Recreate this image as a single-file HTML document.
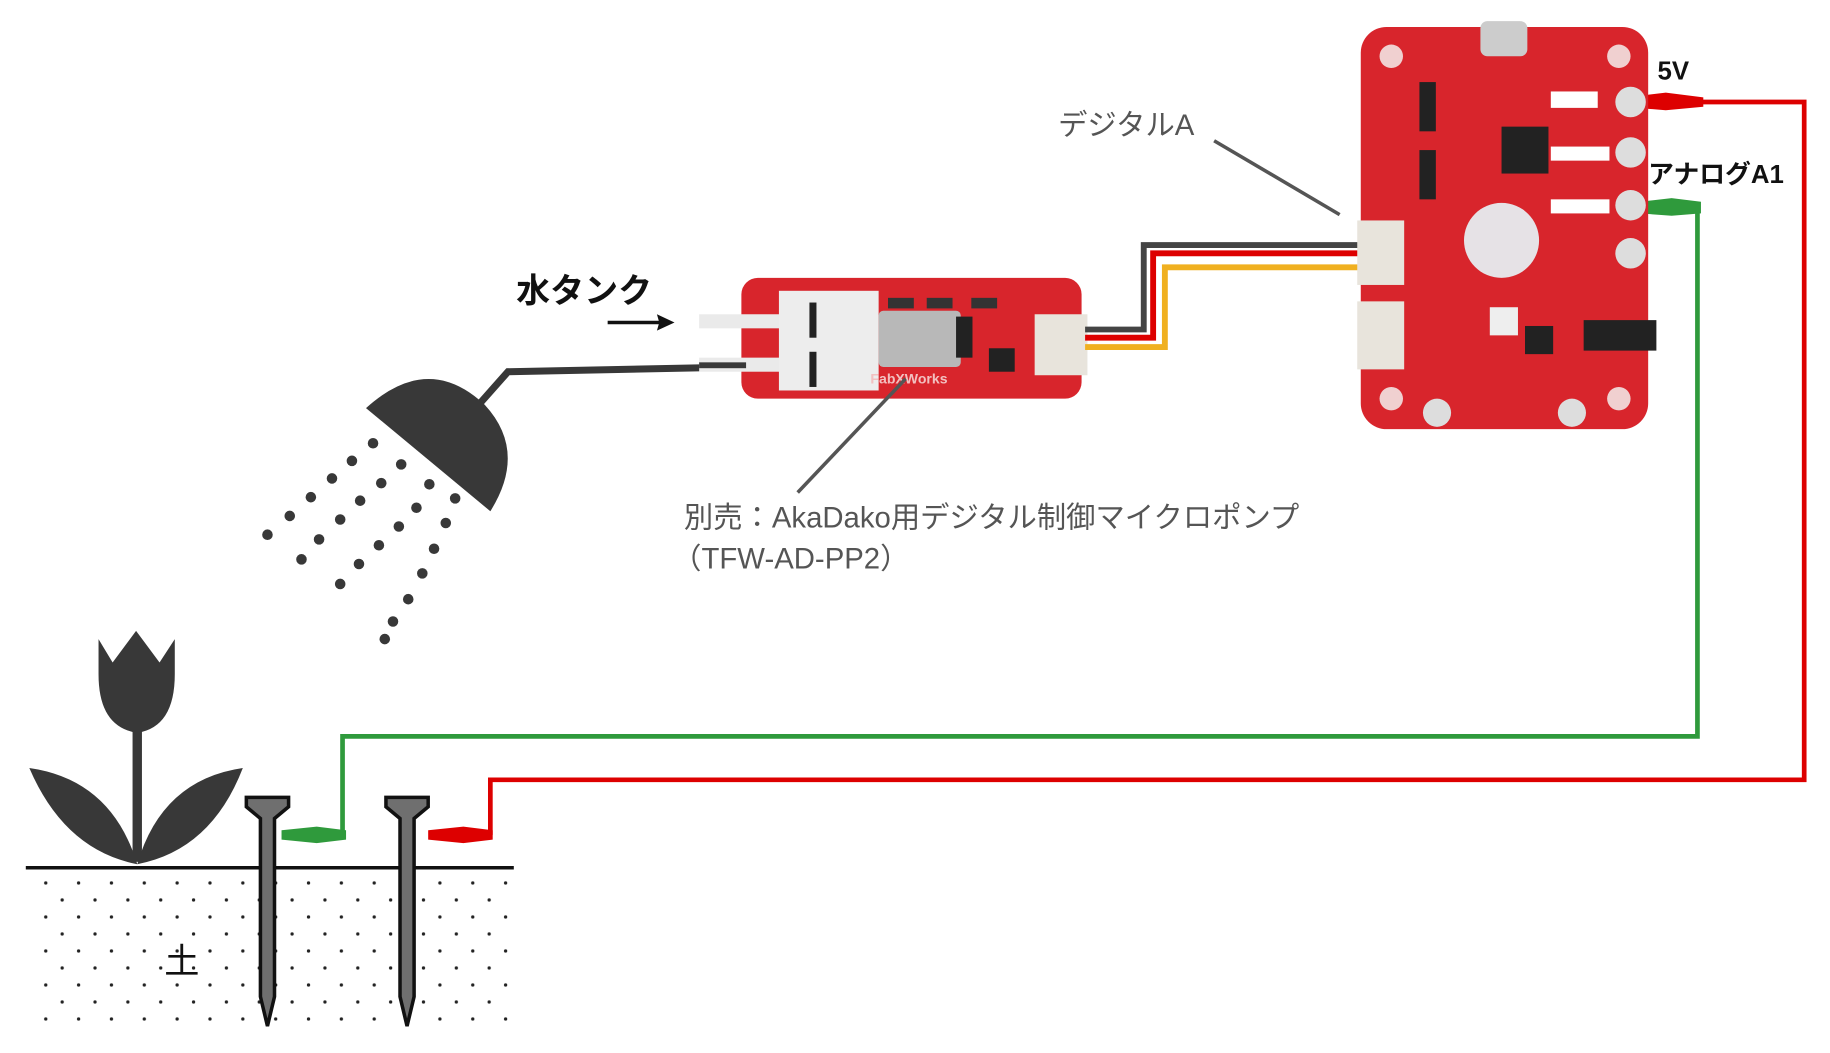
<!DOCTYPE html>
<html><head><meta charset="utf-8"><style>
html,body{margin:0;padding:0;background:#fff;}
svg{display:block;}
text{font-family:"Liberation Sans","Noto Sans CJK JP",sans-serif;}
</style></head><body>
<svg width="1830" height="1053" viewBox="0 0 1560 898" preserveAspectRatio="none" xmlns="http://www.w3.org/2000/svg">
<defs>
<pattern id="dots" x="36" y="750" width="28" height="29" patternUnits="userSpaceOnUse">
<circle cx="3" cy="3" r="1.4" fill="#222"/><circle cx="17" cy="17.5" r="1.4" fill="#222"/>
</pattern>
</defs>
<rect x="30" y="746" width="405" height="132" fill="url(#dots)"/>
<line x1="22" y1="740" x2="438" y2="740" stroke="#111" stroke-width="3"/>
<text x="140" y="830" font-size="30" fill="#111">土</text>
<rect x="113" y="605" width="8" height="130" fill="#383838"/>
<path d="M84 545 L96 565 L116 538 L136 565 L149 545 L149 575 Q149 620 117 625 Q84 620 84 575 Z" fill="#383838"/>
<path d="M25 655 Q95 665 117 737 Q55 725 25 655 Z" fill="#383838"/>
<path d="M207 655 Q138 665 117 737 Q180 725 207 655 Z" fill="#383838"/>
<g fill="#6f6f6f" stroke="#111" stroke-width="3">
<path d="M210 680 H246 V688 L234 698 V850 L228 875 L222 850 V698 L210 688 Z"/>
<path d="M329 680 H365 V688 L353 698 V850 L347 875 L341 850 V698 L329 688 Z"/>
</g>
<polyline points="292,712 292,628 1447,628 1447,178 1430,178" fill="none" stroke="#2f9a3c" stroke-width="4"/>
<polyline points="418,712 418,665 1538,665 1538,87 1440,87" fill="none" stroke="#dd0000" stroke-width="4"/>
<path d="M240 708 L270 705 L295 708 L295 716 L270 719 L240 716 Z" fill="#2f9a3c"/>
<path d="M1398 172 L1425 169 L1450 172 L1450 182 L1425 184 L1398 182 Z" fill="#2f9a3c"/>
<path d="M365 708 L395 705 L420 708 L420 716 L395 719 L365 716 Z" fill="#dd0000"/>
<path d="M1395 82 L1420 79 L1452 83 L1452 91 L1420 94 L1395 92 Z" fill="#dd0000"/>
<path d="M312 348 Q365 300 413 345 Q450 385 418 436 Z" fill="#383838"/>
<polyline points="410,343 433,317 632,313" fill="none" stroke="#383838" stroke-width="6"/>
<g fill="#383838">
<circle cx="318" cy="378" r="4.5"/><circle cx="300" cy="393" r="4.5"/><circle cx="283" cy="408" r="4.5"/><circle cx="265" cy="424" r="4.5"/><circle cx="247" cy="440" r="4.5"/><circle cx="228" cy="456" r="4.5"/>
<circle cx="342" cy="396" r="4.5"/><circle cx="325" cy="412" r="4.5"/><circle cx="307" cy="427" r="4.5"/><circle cx="290" cy="443" r="4.5"/><circle cx="272" cy="460" r="4.5"/><circle cx="257" cy="477" r="4.5"/>
<circle cx="366" cy="413" r="4.5"/><circle cx="355" cy="433" r="4.5"/><circle cx="340" cy="449" r="4.5"/><circle cx="323" cy="465" r="4.5"/><circle cx="306" cy="481" r="4.5"/><circle cx="290" cy="498" r="4.5"/>
<circle cx="388" cy="425" r="4.5"/><circle cx="380" cy="446" r="4.5"/><circle cx="370" cy="468" r="4.5"/><circle cx="360" cy="489" r="4.5"/><circle cx="348" cy="511" r="4.5"/><circle cx="335" cy="530" r="4.5"/><circle cx="328" cy="545" r="4.5"/>
</g>
<text x="440" y="258" font-size="29" font-weight="bold" fill="#111">水タンク</text>
<line x1="518" y1="275" x2="565" y2="275" stroke="#111" stroke-width="3"/>
<path d="M575 275 L560 268 L562 275 L560 282 Z" fill="#111"/>
<rect x="632" y="237" width="290" height="103" rx="14" fill="#d8252c"/>
<rect x="596" y="268" width="70" height="12" fill="#eaeaea"/>
<rect x="596" y="305" width="70" height="12" fill="#eaeaea"/>
<rect x="596" y="309" width="40" height="5" fill="#383838"/>
<rect x="664" y="248" width="85" height="85" fill="#ededed"/>
<rect x="690" y="258" width="6" height="30" fill="#222"/><rect x="690" y="300" width="6" height="30" fill="#222"/>
<rect x="749" y="265" width="70" height="48" rx="4" fill="#b8b8b8"/>
<rect x="815" y="270" width="14" height="35" fill="#222"/>
<rect x="757" y="254" width="22" height="9" fill="#333"/><rect x="790" y="254" width="22" height="9" fill="#333"/><rect x="828" y="254" width="22" height="9" fill="#333"/>
<rect x="843" y="297" width="22" height="20" fill="#222"/>
<text x="742" y="327" font-size="12" font-weight="bold" fill="#f2c0c0">FabXWorks</text>
<rect x="882" y="268" width="45" height="52" fill="#e8e4dc"/>
<polyline points="925,281 975,281 975,209 1165,209" fill="none" stroke="#444" stroke-width="5"/>
<polyline points="925,288 983,288 983,216 1165,216" fill="none" stroke="#dd0000" stroke-width="5"/>
<polyline points="925,296 993,296 993,228 1165,228" fill="none" stroke="#f0b020" stroke-width="5"/>
<rect x="1160" y="23" width="245" height="343" rx="22" fill="#d8252c"/>
<rect x="1262" y="18" width="40" height="30" rx="6" fill="#ccc"/>
<circle cx="1186" cy="48" r="10" fill="#f0d0d0"/><circle cx="1380" cy="48" r="10" fill="#f0d0d0"/>
<circle cx="1186" cy="340" r="10" fill="#f0d0d0"/><circle cx="1380" cy="340" r="10" fill="#f0d0d0"/>
<circle cx="1225" cy="352" r="12" fill="#ddd"/><circle cx="1340" cy="352" r="12" fill="#ddd"/>
<g fill="#ddd"><circle cx="1390" cy="87" r="13"/><circle cx="1390" cy="130" r="13"/><circle cx="1390" cy="175" r="13"/><circle cx="1390" cy="216" r="13"/></g>
<rect x="1280" y="108" width="40" height="40" fill="#222"/>
<circle cx="1280" cy="205" r="32" fill="#e6e2e6"/>
<rect x="1157" y="188" width="40" height="55" fill="#e8e4dc"/>
<rect x="1157" y="257" width="40" height="58" fill="#e8e4dc"/>
<rect x="1210" y="70" width="14" height="42" fill="#222"/><rect x="1210" y="128" width="14" height="42" fill="#222"/>
<rect x="1350" y="273" width="62" height="26" fill="#222"/>
<rect x="1270" y="262" width="24" height="24" fill="#eee"/>
<rect x="1300" y="278" width="24" height="24" fill="#222"/>
<rect x="1322" y="78" width="40" height="14" fill="#fff"/><rect x="1322" y="125" width="50" height="12" fill="#fff"/><rect x="1322" y="170" width="50" height="12" fill="#fff"/>
<text x="1413" y="68" font-size="22" font-weight="bold" fill="#111">5V</text>
<text x="1405" y="156" font-size="22" font-weight="bold" fill="#111">アナログA1</text>
<text x="902" y="115" font-size="25" fill="#555">デジタルA</text>
<line x1="1035" y1="120" x2="1142" y2="183" stroke="#555" stroke-width="3"/>
<line x1="680" y1="420" x2="772" y2="323" stroke="#555" stroke-width="3"/>
<text x="583" y="450" font-size="25" fill="#555">別売：AkaDako用デジタル制御マイクロポンプ</text>
<text x="573" y="485" font-size="25" fill="#555">（TFW-AD-PP2）</text>
</svg>
</body></html>
